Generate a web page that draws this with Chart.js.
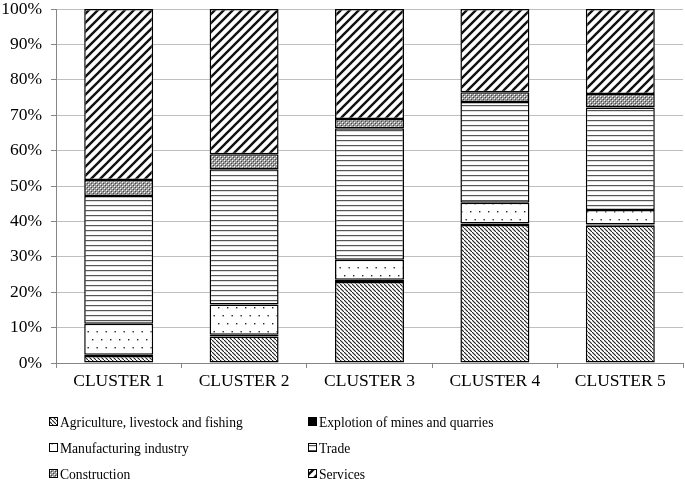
<!DOCTYPE html>
<html lang="en">
<head>
    <meta charset="UTF-8">
    <title>Economic sectors by cluster</title>
    <script src="https://cdn.jsdelivr.net/npm/chart.js"></script>
    <style> html, body { margin: 0; padding: 0; background: #fff; } #wrap { width: 685px; height: 484px; } </style>
</head>
<body>
    <div id="wrap"><canvas id="sectorChart" width="685" height="484"></canvas></div>

    <script>
        const categories = ['CLUSTER 1', 'CLUSTER 2', 'CLUSTER 3', 'CLUSTER 4', 'CLUSTER 5'];
        const seriesNames = ['Agriculture, livestock and fishing', 'Explotion of mines and quarries', 'Manufacturing industry', 'Trade', 'Construction', 'Services'];
        const agriculture = [2.0, 7.5, 22.9, 39.0, 38.8];
        const explotion = [0.3, 0.5, 0.6, 0.4, 0.3];
        const manufacturing = [8.8, 8.5, 5.7, 5.9, 4.1];
        const trade = [36.1, 38.2, 37.1, 28.4, 29.0];
        const construction = [4.5, 4.3, 2.6, 2.8, 3.8];
        const services = [48.3, 41.0, 31.1, 23.5, 24.0];
        const yTicks = [0, 10, 20, 30, 40, 50, 60, 70, 80, 90, 100];

        const canvas = document.getElementById('sectorChart');
        const ctx = canvas.getContext('2d');
        const FONT = "'Liberation Serif', 'Times New Roman', serif";

        // small repeating tiles for the hatch fills
        function tile(w, h, draw) {
            const c = document.createElement('canvas');
            c.width = w; c.height = h;
            const g = c.getContext('2d');
            g.fillStyle = '#fff';
            g.fillRect(0, 0, w, h);
            draw(g);
            return ctx.createPattern(c, 'repeat');
        }

        const patterns = [
            // agriculture: dense back-slash
            tile(4, 4, g => {
                g.strokeStyle = '#222'; g.lineWidth = 1.1;
                g.beginPath(); g.moveTo(-1, -1); g.lineTo(5, 5); g.stroke();
            }),
            // mines: solid black
            '#000',
            // manufacturing: sparse dots
            tile(9, 16, g => {
                g.fillStyle = '#222';
                g.fillRect(2, 3, 1.4, 1.4);
                g.fillRect(6.5, 11, 1.4, 1.4);
            }),
            // trade: horizontal lines
            tile(4, 5, g => {
                g.fillStyle = '#555';
                g.fillRect(0, 0, 4, 1.2);
            }),
            // construction: fine cross hatch
            tile(4, 4, g => {
                g.fillStyle = '#9a9a9a';
                g.fillRect(0, 0, 4, 4);
                g.fillStyle = '#fff';
                g.fillRect(0, 0, 1, 1);
                g.fillRect(2, 2, 1, 1);
                g.fillStyle = '#444';
                g.fillRect(1, 1, 1, 1);
                g.fillRect(3, 3, 1, 1);
            }),
            // services: forward slash
            tile(9, 9, g => {
                g.strokeStyle = '#111'; g.lineWidth = 2.4;
                g.beginPath();
                g.moveTo(-2, 11); g.lineTo(11, -2);
                g.moveTo(-2, 2); g.lineTo(2, -2);
                g.moveTo(7, 11); g.lineTo(11, 7);
                g.stroke();
            })
        ];

        const values = [agriculture, explotion, manufacturing, trade, construction, services];

        const legendPlugin = {
            id: 'gridLegend',
            afterDraw(chart) {
                const c = chart.ctx;
                const cols = [49, 308];
                const rows = [422, 448, 474];
                c.save();
                c.font = '13.6px ' + FONT;
                c.textBaseline = 'middle';
                chart.data.datasets.forEach((ds, i) => {
                    const x = cols[i % 2];
                    const y = rows[Math.floor(i / 2)];
                    c.fillStyle = ds.backgroundColor;
                    c.fillRect(x + 0.5, y - 4.5, 8, 8);
                    c.strokeStyle = '#000'; c.lineWidth = 1;
                    c.strokeRect(x + 0.5, y - 4.5, 8, 8);
                    c.fillStyle = '#000';
                    c.fillText(ds.label, x + 11, y + 1);
                });
                c.restore();
            }
        };

        new Chart(ctx, {
            type: 'bar',
            data: {
                labels: categories,
                datasets: seriesNames.map((name, i) => ({
                    label: name,
                    data: values[i],
                    backgroundColor: patterns[i],
                    borderColor: '#000',
                    borderWidth: 1.5,
                    borderSkipped: false,
                    barPercentage: 0.55,
                    categoryPercentage: 1
                }))
            },
            options: {
                responsive: false,
                animation: false,
                layout: { padding: { top: 9, right: 2, bottom: 91, left: 0 } },
                plugins: { legend: { display: false }, tooltip: { enabled: false } },
                scales: {
                    x: {
                        stacked: true,
                        offset: true,
                        afterFit: s => { s.height = 30; s.paddingLeft = 0; s.paddingRight = 0; },
                        grid: { display: true, drawOnChartArea: false, offset: true, color: '#868686', tickLength: 5 },
                        border: { color: '#868686' },
                        ticks: { color: '#000', font: { family: FONT, size: 17.5 }, padding: 3 }
                    },
                    y: {
                        stacked: true,
                        min: 0,
                        max: 100,
                        afterFit: s => { s.width = 56; s.paddingTop = 0; s.paddingBottom = 0; },
                        afterBuildTicks: s => { s.ticks = yTicks.map(v => ({ value: v })); },
                        grid: { color: '#bfbfbf', tickLength: 5, tickColor: '#868686' },
                        border: { color: '#868686' },
                        ticks: { color: '#000', font: { family: FONT, size: 17.5 }, padding: 9, callback: v => v + '%' }
                    }
                }
            },
            plugins: [legendPlugin]
        });
    </script>
</body>
</html>
